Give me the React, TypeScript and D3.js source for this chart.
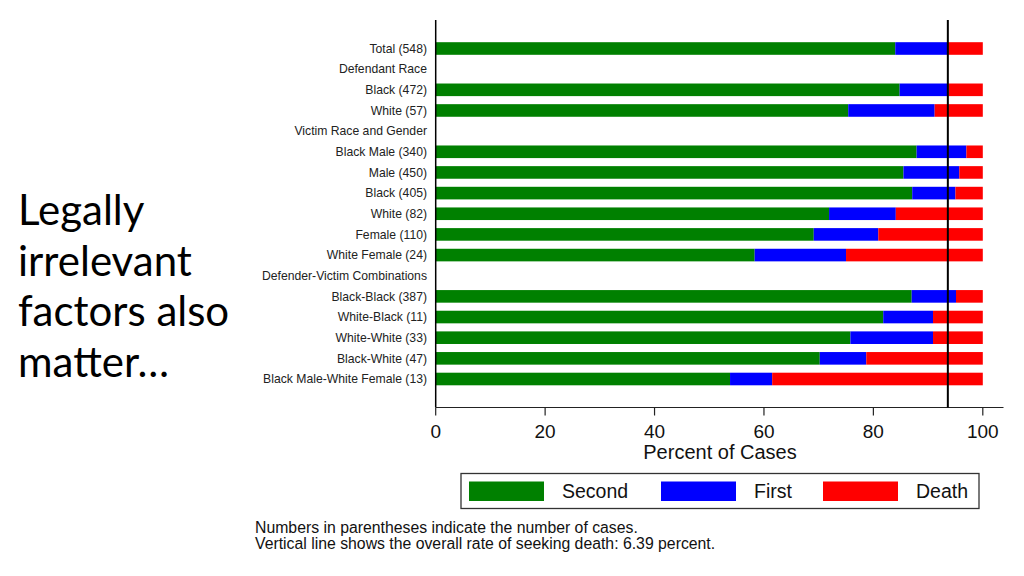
import React from "react";
import * as d3 from "d3";

const categories = [
  "Total (548)",
  "Defendant Race",
  "Black (472)",
  "White (57)",
  "Victim Race and Gender",
  "Black Male (340)",
  "Male (450)",
  "Black (405)",
  "White (82)",
  "Female (110)",
  "White Female (24)",
  "Defender-Victim Combinations",
  "Black-Black (387)",
  "White-Black (11)",
  "White-White (33)",
  "Black-White (47)",
  "Black Male-White Female (13)",
];
const isHeader = [false, true, false, false, true, false, false, false, false, false, false, true, false, false, false, false, false];
const second = [84.0, 0, 84.8, 75.4, 0, 87.9, 85.5, 87.1, 71.9, 69.1, 58.3, 0, 87.0, 81.8, 75.8, 70.2, 53.8];
const first = [9.6, 0, 8.9, 15.8, 0, 9.1, 10.2, 7.9, 12.2, 11.8, 16.7, 0, 8.1, 9.1, 15.1, 8.5, 7.7];
const death = [6.4, 0, 6.3, 8.8, 0, 3.0, 4.3, 5.0, 15.9, 19.1, 25.0, 0, 4.9, 9.1, 9.1, 21.3, 38.5];
const seriesKeys = ["Second", "First", "Death"];
const seriesColors = ["#008000", "#0000ff", "#ff0000"];
const xTicks = [0, 20, 40, 60, 80, 100];
const overallDeathRate = 6.39;
const titleLines = ["Legally", "irrelevant", "factors also", "matter…"];
const footnotes = [
  "Numbers in parentheses indicate the number of cases.",
  "Vertical line shows the overall rate of seeking death: 6.39 percent.",
];

const font = "'Liberation Sans', Arial, sans-serif";

export default function App() {
  const x = d3.scaleLinear().domain([0, 100]).range([435.7, 982.8]);
  const y = d3.scalePoint<number>().domain(categories.map((_, i) => i)).range([48.5, 379]);
  const barH = 12.6;

  const rows = categories.map((c, i) => ({ i, Second: second[i], First: first[i], Death: death[i] }));
  const stacked = d3.stack<any>().keys(seriesKeys)(rows);

  const axisY = 407.5;
  const topY = 20;

  return (
    <svg width={1024} height={576} style={{ position: "absolute", left: 0, top: 0, background: "#fff" }}>
      <rect x={0} y={0} width={1024} height={576} fill="#fff" />
      {/* Title */}
      {titleLines.map((t, i) => (
        <text key={t} x={18} y={225 + i * 50.5} fontFamily="Lato, 'Open Sans', sans-serif" fontWeight={400} fontSize={42} fill="#000">
          {t}
        </text>
      ))}
      {/* Bars */}
      {stacked.map((s, si) => (
        <g key={s.key} fill={seriesColors[si]}>
          {s.map((d, i) =>
            isHeader[i] ? null : (
              <rect key={i} x={x(d[0])} y={(y(i) as number) - barH / 2} width={x(d[1]) - x(d[0])} height={barH} />
            )
          )}
        </g>
      ))}
      {/* Category labels */}
      {categories.map((c, i) => (
        <text key={i} x={427} y={(y(i) as number) + 4.3} textAnchor="end" fontFamily={font} fontSize={12.2} fill="#222">
          {c}
        </text>
      ))}
      {/* Axes */}
      <line x1={x(0)} x2={x(0)} y1={topY} y2={axisY} stroke="#000" strokeWidth={1.5} />
      <line x1={x(0)} x2={1003.5} y1={axisY} y2={axisY} stroke="#222" strokeWidth={1.2} />
      {xTicks.map((t) => (
        <g key={t}>
          <line x1={x(t)} x2={x(t)} y1={axisY} y2={axisY + 8} stroke="#222" strokeWidth={1.2} />
          <text x={x(t)} y={437.5} textAnchor="middle" fontFamily={font} fontSize={19} fill="#111">
            {t}
          </text>
        </g>
      ))}
      <text x={720} y={459} textAnchor="middle" fontFamily={font} fontSize={20} fill="#111">
        Percent of Cases
      </text>
      {/* Reference line */}
      <line x1={x(100 - overallDeathRate)} x2={x(100 - overallDeathRate)} y1={topY} y2={axisY} stroke="#000" strokeWidth={2} />
      {/* Legend */}
      <rect x={461} y={473.5} width={518} height={35} fill="#fff" stroke="#333" strokeWidth={1.3} />
      {seriesKeys.map((k, i) => {
        const sx = [469, 661, 823][i];
        return (
          <g key={k}>
            <rect x={sx} y={481.5} width={75} height={19.5} fill={seriesColors[i]} />
            <text x={sx + 93} y={498} fontFamily={font} fontSize={19.5} fill="#111">
              {k}
            </text>
          </g>
        );
      })}
      {/* Footnotes */}
      {footnotes.map((f, i) => (
        <text key={i} x={255} y={533 + i * 15.5} fontFamily={font} fontSize={15.8} fill="#111">
          {f}
        </text>
      ))}
    </svg>
  );
}
